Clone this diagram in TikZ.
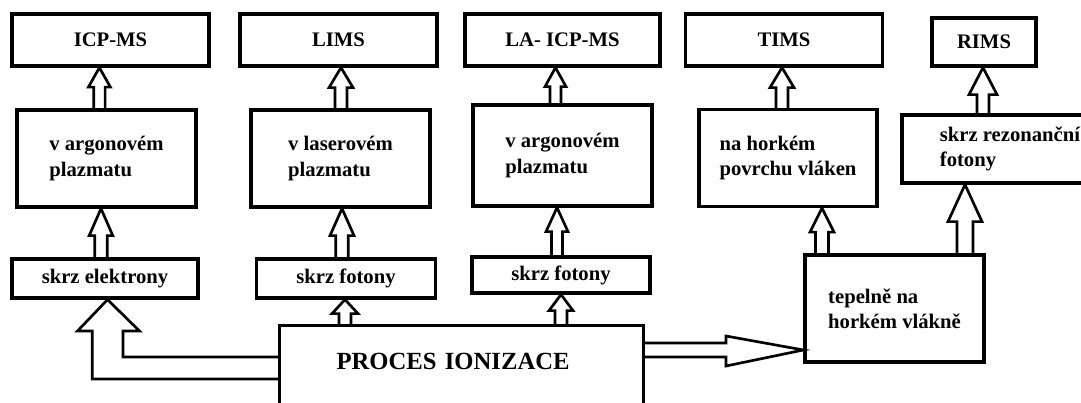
\documentclass[tikz,border=0pt]{standalone}
\usepackage{fontspec}
\setmainfont{Liberation Serif}
\usetikzlibrary{calc}

\tikzset{
  box/.style={draw, line width=2.4pt, inner sep=0pt, align=center,
    font=\bfseries\fontsize{15.5}{19}\selectfont},
  topbox/.style={box, minimum width=147.75pt, minimum height=39pt},
  midbox/.style={box, align=left, minimum width=134.25pt, minimum height=72.75pt},
  botbox/.style={box, minimum width=134.25pt, minimum height=29.25pt},
  blockline/.style={draw, line width=2pt, line join=miter}
}

% hollow upward block arrow: axis x, tail anchor, tip anchor, shaft/2, head/2, head length
\newcommand{\vblock}[6]{%
  \draw[blockline]
    ($(#1,0 |- #2)+(-#4,0)$)
    --
    ($(#1,0 |- #3)+(-#4,#6)$)
    --
    ($(#1,0 |- #3)+(-#5,#6)$)
    --
    (#1,0 |- #3)
    --
    ($(#1,0 |- #3)+(#5,#6)$)
    --
    ($(#1,0 |- #3)+(#4,#6)$)
    --
    ($(#1,0 |- #2)+(#4,0)$);
}

\begin{document}
\begin{tikzpicture}[x=0.75pt, y=-0.75pt]
  \useasboundingbox (0,0) rectangle (1081,403);
  \fill[white] (0,0) rectangle (1081,403);

  % methods
  \node[topbox] (icptop) at (110.5,40) {ICP-MS};
  \node[topbox] (limstop) at (338.5,40) {LIMS};
  \node[topbox, minimum width=146.25pt] (latop) at (562.5,40) {LA- ICP-MS};
  \node[topbox] (timstop) at (784,40) {TIMS};
  \node[topbox, minimum width=78pt, minimum height=36pt] (rimstop) at (984,42) {RIMS};

  % where
  \node[midbox] (icpmid) at (106.5,158.5) {v argonovém\\plazmatu};
  \node[midbox] (limsmid) at (340.5,158.5) {v laserovém\\plazmatu};
  \node[midbox, minimum height=75.75pt] (lamid) at (562.5,155.5) {v argonovém\\plazmatu};
  \node[midbox, minimum width=133.5pt] (timsmid) at (788,158) {na horkém\\povrchu vláken};
  \node[midbox, minimum width=162pt, minimum height=51pt] (rimsmid) at (1010,149) {skrz rezonanční\\fotony};

  % how
  \node[botbox, minimum width=139.5pt] (elekt) at (105,278.5) {skrz elektrony};
  \node[botbox] (limsbot) at (346,278.5) {skrz fotony};
  \node[botbox, minimum width=133.5pt, minimum height=27pt] (labot) at (561,275) {skrz fotony};
  \node[midbox, minimum height=80.25pt] (tepel) at (894.5,308.5) {tepelně na\\horkém vlákně};

  \node[box, anchor=north west, align=left, text width=187.5pt, inner xsep=42.75pt,
    inner ysep=20.25pt, text height=12.75pt, text depth=45pt,
    font=\bfseries\fontsize{18.5}{22}\selectfont] (proc) at (278,324) {PROCES IONIZACE};

  % arrows
  \vblock{99.4}{icpmid.north}{icptop.south}{5.7}{11}{19.5}
  \vblock{341}{limsmid.north}{limstop.south}{6}{12}{20}
  \vblock{555.5}{lamid.north}{latop.south}{5.5}{10.5}{19}
  \vblock{782}{timsmid.north}{timstop.south}{6}{12}{20}
  \vblock{983}{rimsmid.north}{rimstop.south}{6}{14}{27}
  \vblock{101}{elekt.north}{icpmid.south}{6.3}{11.8}{27}
  \vblock{342}{limsbot.north}{limsmid.south}{6.2}{12}{27}
  \vblock{557}{labot.north}{lamid.south}{5.5}{11}{24}
  \vblock{345}{proc.north}{limsbot.south}{6}{13}{14}
  \vblock{561}{proc.north}{labot.south}{6}{12}{16}
  \vblock{822}{tepel.north}{timsmid.south}{6.5}{12}{24}
  \vblock{965}{tepel.north}{rimsmid.south}{8}{17}{37}

  \draw[blockline]
    (proc.west |- 0,357)
    --
    (123,357)
    --
    (123,331)
    --
    (139.5,331)
    --
    (107.5,0 |- elekt.south)
    --
    (77.5,331)
    --
    (92.3,331)
    --
    (92.3,379)
    --
    (proc.west |- 0,379);
  \draw[blockline]
    (proc.east |- 0,343)
    --
    (726,343)
    --
    (726,336)
    --
    (tepel.west |- 0,350)
    --
    (726,366)
    --
    (726,357)
    --
    (proc.east |- 0,357);
\end{tikzpicture}
\end{document}
